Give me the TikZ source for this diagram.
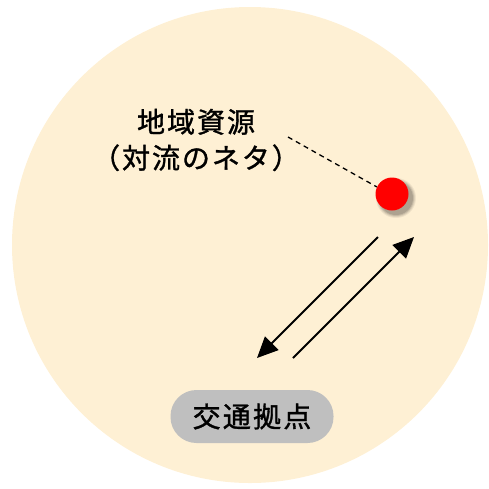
\documentclass[tikz,border=0pt]{standalone}
\usepackage{fontspec}
\newfontfamily\jpfont[LetterSpace=7,FakeBold=1.2]{Noto Sans CJK JP}
\newfontfamily\jpfontb[LetterSpace=8,FakeBold=1.2]{Noto Sans CJK JP}
\usetikzlibrary{arrows.meta,shadows}
\definecolor{bgcirc}{HTML}{FEF0D4}
\definecolor{boxgray}{HTML}{BFBFBF}
\definecolor{dotred}{HTML}{FF0000}
\tikzset{
  arr/.style={line width=1.8pt,-{Triangle[length=21pt,width=19pt]}},
  lbl/.style={font=\jpfont\fontsize{28}{36}\selectfont, align=center, text=black, inner sep=0pt},
}
\begin{document}
\begin{tikzpicture}[x=1pt,y=-1pt]
\useasboundingbox (0,0) rectangle (489,488);
\fill[bgcirc] (250,245) circle (238);
% label
\node[lbl] (res) at (196,140) {地域資源\\（対流のネタ）};
% red dot shadow
\foreach \r/\o in {20/0.06,19/0.08,18/0.1,17/0.12}{
  \fill[black,opacity=\o] (396,198) circle (\r);
}
\node[circle,fill=dotred,minimum size=33pt,inner sep=0pt] (dot) at (392,194) {};
\coordinate (dl) at (288,137);
\draw[line width=1.3pt,dash pattern=on 5pt off 4pt] (dl) -- (dot.155);
% arrows
\coordinate (a1s) at (378,237);
\coordinate (a1e) at (257,358);
\coordinate (a2s) at (293,358);
\coordinate (a2e) at (414,237);
\draw[arr] (a1s) -- (a1e);
\draw[arr] (a2s) -- (a2e);
% box
\node[fill=boxgray,rounded corners=26pt,minimum width=163pt,minimum height=53pt,inner sep=0pt,
  font=\jpfontb\fontsize{28}{30}\selectfont] (hub) at (252,416.5) {交通拠点};
\end{tikzpicture}
\end{document}
